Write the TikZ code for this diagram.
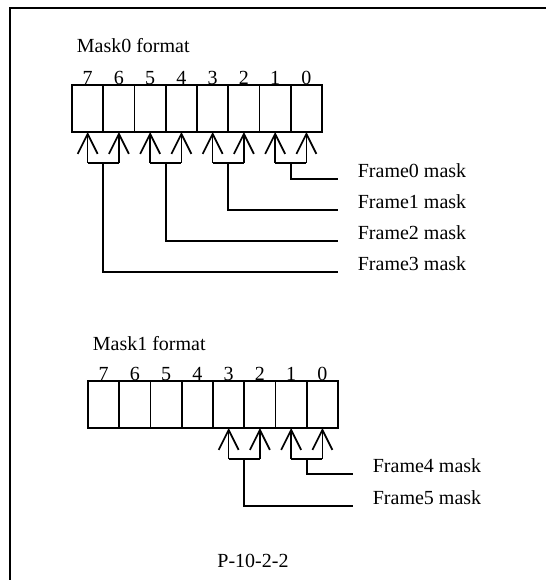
\documentclass[tikz,border=0pt]{standalone}
\usepackage{fontspec}
\setmainfont{Liberation Serif}
\usetikzlibrary{arrows.meta}
\begin{document}
\begin{tikzpicture}[x=1pt,y=-1pt,line width=1.7pt,
  cell/.style={draw,minimum width=31.25pt,minimum height=47pt,inner sep=0pt,outer sep=0pt},
  bitno/.style={anchor=base,font=\fontsize{20}{22}\selectfont,inner sep=0pt},
  lbl/.style={anchor=base west,font=\fontsize{20}{22}\selectfont,inner sep=0pt},
  arr/.style={-{Straight Barb[length=20pt,width=20pt]}}]
\useasboundingbox (0,0) rectangle (546,580);
\coordinate (fb) at (10,580);
\coordinate (fc) at (10,8);
\coordinate (fr) at (546,8);
\draw[line width=2pt] (fb) -- (fc) -- (fr);
% Mask0
\node[lbl] (t0) at (76,53) {Mask0 format};
\foreach \i in {0,...,7}{
  \pgfmathtruncatemacro\b{7-\i}
  \node[cell] (a\b) at ({87.625+31.25*\i},108.5) {};
  \node[bitno] (na\b) at ([yshift=0.5pt]a\b.north) {\b};
}
\foreach \h/\l/\y/\k in {1/0/179/0,3/2/210/1,5/4/241/2,7/6/272/3}{
  \coordinate (ba\h) at (a\h.south |- 0,163);
  \coordinate (ba\l) at (a\l.south |- 0,163);
  \draw[arr] (ba\h) -- (a\h.south);
  \draw[arr] (ba\l) -- (a\l.south);
  \draw (ba\h) -- (ba\l);
  \coordinate (ea\k) at (338,\y);
  \draw (a\l.south west |- 0,163) |- (ea\k);
  \node[lbl] (fa\k) at (357,\y-1.5) {Frame\k{} mask};
}
% Mask1
\node[lbl] (t1) at (92,350) {Mask1 format};
\foreach \i in {0,...,7}{
  \pgfmathtruncatemacro\b{7-\i}
  \node[cell] (c\b) at ({103.625+31.25*\i},404.5) {};
  \node[bitno] (nc\b) at ([yshift=0.5pt]c\b.north) {\b};
}
\foreach \h/\l/\y/\k in {1/0/474/4,3/2/506/5}{
  \coordinate (bc\h) at (c\h.south |- 0,459);
  \coordinate (bc\l) at (c\l.south |- 0,459);
  \draw[arr] (bc\h) -- (c\h.south);
  \draw[arr] (bc\l) -- (c\l.south);
  \draw (bc\h) -- (bc\l);
  \coordinate (ec\k) at (353,\y);
  \draw (c\l.south west |- 0,459) |- (ec\k);
  \node[lbl] (fc\k) at (372,\y-1.5) {Frame\k{} mask};
}
\node[lbl,anchor=base] (cap) at (253,567) {P-10-2-2};
\end{tikzpicture}
\end{document}
